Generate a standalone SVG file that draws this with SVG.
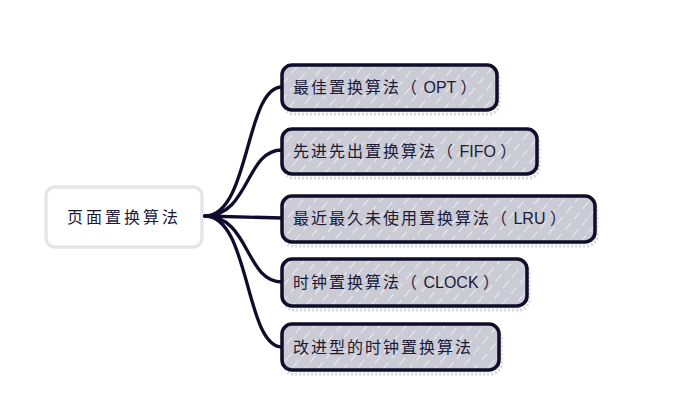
<svg xmlns="http://www.w3.org/2000/svg" width="676" height="408" viewBox="0 0 676 408">
<defs>
<pattern id="hatch" width="10" height="14" patternUnits="userSpaceOnUse" patternTransform="rotate(40)">
<rect width="10" height="14" fill="#cbcbd5"/>
<line x1="0" y1="0" x2="0" y2="14" stroke="#ffffff" stroke-width="1.3" stroke-dasharray="9 5"/>
</pattern>
</defs>
<style>
.box{fill:url(#hatch);stroke:#0e0e2c;stroke-width:3.5;}
.shadow{fill:none;stroke:#d6d6da;stroke-width:3;stroke-dasharray:2 2;}
.lbl{font-family:"Liberation Sans","Noto Sans CJK SC",sans-serif;font-size:16px;fill:#1a1a38;letter-spacing:2px;}
.lat{letter-spacing:0px;}
.conn{fill:none;stroke:#0e0e2c;stroke-width:3.3;stroke-linecap:round;}
</style>
<rect width="676" height="408" fill="#ffffff"/>
<g id="root">
<rect x="46" y="187" width="156" height="60" rx="9" fill="#ffffff" stroke="#e6e6ea" stroke-width="3.5"/>
<text class="lbl" x="67" y="223" style="letter-spacing:3px">页面置换算法</text>
</g>
<g id="connectors">
<path class="conn" d="M205,216 C250,216 245,87 282,87"/>
<path class="conn" d="M205,216 C250,216 245,150 282,150"/>
<path class="conn" d="M205,216 L282,218"/>
<path class="conn" d="M205,216 C250,216 245,282 282,282"/>
<path class="conn" d="M205,216 C250,216 245,347 282,347"/>
</g>
<g id="n1">
<rect class="shadow" x="284" y="69" width="215" height="45" rx="10"/>
<rect class="box" x="282" y="65" width="215" height="45" rx="10"/>
<text class="lbl" x="293" y="93">最佳置换算法（<tspan class="lat"> OPT </tspan>）</text>
</g>
<g id="n2">
<rect class="shadow" x="284" y="133" width="255" height="45" rx="10"/>
<rect class="box" x="282" y="129" width="255" height="45" rx="10"/>
<text class="lbl" x="293" y="157">先进先出置换算法（<tspan class="lat"> FIFO </tspan>）</text>
</g>
<g id="n3">
<rect class="shadow" x="284" y="200" width="313" height="46" rx="10"/>
<rect class="box" x="282" y="196" width="313" height="46" rx="10"/>
<text class="lbl" x="293" y="224">最近最久未使用置换算法（<tspan class="lat"> LRU </tspan>）</text>
</g>
<g id="n4">
<rect class="shadow" x="284" y="263" width="245" height="47" rx="10"/>
<rect class="box" x="282" y="259" width="245" height="47" rx="10"/>
<text class="lbl" x="293" y="288">时钟置换算法（<tspan class="lat"> CLOCK </tspan>）</text>
</g>
<g id="n5">
<rect class="shadow" x="284" y="328" width="217" height="46" rx="10"/>
<rect class="box" x="282" y="324" width="217" height="46" rx="10"/>
<text class="lbl" x="293" y="353">改进型的时钟置换算法</text>
</g>
</svg>
